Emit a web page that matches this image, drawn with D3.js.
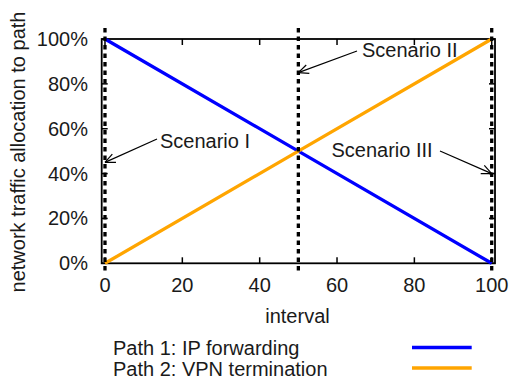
<!DOCTYPE html>
<html><head><meta charset="utf-8">
<script src="https://cdn.jsdelivr.net/npm/d3@7"></script>
<style>
html,body{margin:0;padding:0;background:#fff;}
text{font-family:"Liberation Sans",Arial,sans-serif;fill:#1a1a1a;}
</style></head>
<body>
<script>
const intervals = [0, 50, 100];
const path1 = [1.0, 0.5, 0.0];
const path2 = [0.0, 0.5, 1.0];
const seriesNames = ["Path 1: IP forwarding", "Path 2: VPN termination"];
const seriesColors = ["#0000ff", "#ffa500"];
const xTicks = [0, 20, 40, 60, 80, 100];
const yTicks = [0, 0.2, 0.4, 0.6, 0.8, 1.0];
const scenarioX = [0, 50, 100];
const scenarioLabels = ["Scenario I", "Scenario II", "Scenario III"];
const scenarioY = [0.45, 0.85, 0.40];

const W = 516, H = 383;
const svg = d3.select("body").append("svg").attr("width", W).attr("height", H);
const x = d3.scaleLinear().domain([-0.85, 100.85]).range([101.7, 495]);
const y = d3.scaleLinear().domain([0, 1]).range([263.3, 39]);
const fs = 20;

// frame
svg.append("rect").attr("x", x(-0.85)).attr("y", y(1)).attr("width", x(100.85) - x(-0.85))
  .attr("height", y(0) - y(1)).attr("fill", "none").attr("stroke", "#000").attr("stroke-width", 1.8);

// ticks inward
const tl = 6;
xTicks.forEach(t => {
  svg.append("line").attr("x1", x(t)).attr("x2", x(t)).attr("y1", y(0)).attr("y2", y(0) - tl).attr("stroke", "#000").attr("stroke-width", 1.5);
  svg.append("line").attr("x1", x(t)).attr("x2", x(t)).attr("y1", y(1)).attr("y2", y(1) + tl).attr("stroke", "#000").attr("stroke-width", 1.5);
  svg.append("text").attr("x", x(t)).attr("y", 292).attr("text-anchor", "middle").attr("font-size", fs).text(t);
});
yTicks.forEach(t => {
  svg.append("line").attr("x1", x(-0.85)).attr("x2", x(-0.85) + tl).attr("y1", y(t)).attr("y2", y(t)).attr("stroke", "#000").attr("stroke-width", 1.5);
  svg.append("line").attr("x1", x(100.85)).attr("x2", x(100.85) - tl).attr("y1", y(t)).attr("y2", y(t)).attr("stroke", "#000").attr("stroke-width", 1.5);
  svg.append("text").attr("x", 88).attr("y", y(t) + 7).attr("text-anchor", "end").attr("font-size", fs).text(d3.format(".0%")(t));
});

// axis titles
svg.append("text").attr("x", 297.5).attr("y", 323).attr("text-anchor", "middle").attr("font-size", fs).text("interval");
svg.append("text").attr("transform", "translate(25,152) rotate(-90)").attr("text-anchor", "middle").attr("font-size", 20)
  .text("network traffic allocation to path");

// series lines
const line = d3.line().x((d, i) => x(intervals[i])).y(d => y(d));
[path1, path2].forEach((s, k) => {
  svg.append("path").datum(s).attr("d", line).attr("fill", "none").attr("stroke", seriesColors[k]).attr("stroke-width", 3.3);
});

// scenario dashed lines
scenarioX.forEach(v => {
  svg.append("line").attr("x1", x(v)).attr("x2", x(v)).attr("y1", 28).attr("y2", 274)
    .attr("stroke", "#000").attr("stroke-width", 3.3).attr("stroke-dasharray", "4.5,4");
});

// annotations
function arrow(x1, y1, x2, y2) {
  const a = Math.atan2(y2 - y1, x2 - x1), L = 11, sp = 0.42;
  svg.append("line").attr("x1", x1).attr("y1", y1).attr("x2", x2).attr("y2", y2).attr("stroke", "#000").attr("stroke-width", 1.2);
  [a + Math.PI - sp, a + Math.PI + sp].forEach(b => {
    svg.append("line").attr("x1", x2).attr("y1", y2).attr("x2", x2 + L * Math.cos(b)).attr("y2", y2 + L * Math.sin(b))
      .attr("stroke", "#000").attr("stroke-width", 1.2);
  });
}
// Scenario I
svg.append("text").attr("x", 160).attr("y", 148).attr("font-size", fs).text(scenarioLabels[0]);
arrow(157, 139, x(scenarioX[0]), y(scenarioY[0]));
// Scenario II
svg.append("text").attr("x", 362).attr("y", 57).attr("font-size", fs).text(scenarioLabels[1]);
arrow(357, 51, x(scenarioX[1]), y(scenarioY[1]));
// Scenario III
svg.append("text").attr("x", 331.5).attr("y", 157).attr("font-size", fs).text(scenarioLabels[2]);
arrow(440, 151, x(scenarioX[2]), y(scenarioY[2]));

// legend
seriesNames.forEach((n, k) => {
  const by = 355 + k * 20.5;
  svg.append("text").attr("x", 113).attr("y", by).attr("font-size", fs).text(n);
  svg.append("line").attr("x1", 412).attr("x2", 471.7).attr("y1", by - 7.5).attr("y2", by - 7.5)
    .attr("stroke", seriesColors[k]).attr("stroke-width", 3.3);
});
</script>
</body></html>
